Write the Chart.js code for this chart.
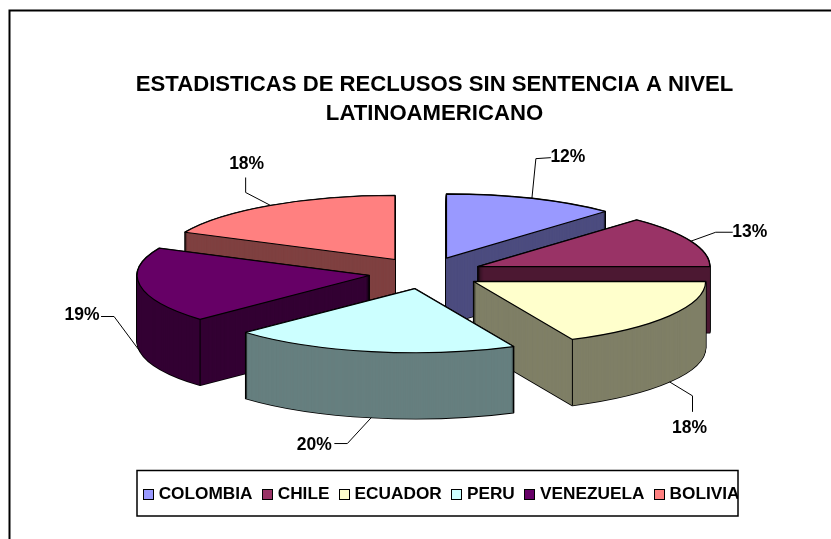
<!DOCTYPE html>
<html>
<head>
<meta charset="utf-8">
<style>html,body{margin:0;padding:0;background:#fff}canvas{display:block}</style>
<script src="https://cdn.jsdelivr.net/npm/chart.js@4"></script>
</head>
<body>
<canvas id="c" width="831" height="539"></canvas>
<script>
const categories = ['COLOMBIA','CHILE','ECUADOR','PERU','VENEZUELA','BOLIVIA'];
const values = [12,13,18,20,19,18];
const tickLabels = ['12%','13%','18%','20%','19%','18%'];
const topColors = ['#9999FF','#993366','#FFFFCC','#CCFFFF','#660066','#FF8080'];
const sideColors = ['#4C4C7F','#4C1933','#7F7F66','#667F7F','#330033','#7F4040'];
const titleLines = ['ESTADISTICAS DE RECLUSOS SIN SENTENCIA A NIVEL','LATINOAMERICANO'];

const FONT = '"Liberation Sans", Arial, sans-serif';
const view = {cx:425.5, cy:273, rx:232, ry:64, depth:66, explode:57, tilt:0.28};
// back-to-front painting order (slice indices)
const paintOrder = [0,5,1,4,2,3];
// leader elbows and label anchor, relative to the rim point of each slice
const leaders = [
  {pts:[[4,-40],[19,-41]], text:[36,-41]},
  {pts:[[25,-9],[42,-9]], text:[59,-9]},
  {pts:[[23,14],[23,30]], text:[20,46]},
  {pts:[[-24,26],[-37,26]], text:[-57,28]},
  {pts:[[-26,-35],[-39,-35]], text:[-58,-36]},
  {pts:[[-25,-13],[-25,-28]], text:[-24,-41]}
];

const pie3d = {
  id:'pie3d',
  beforeDatasetsDraw(chart){
    const ctx = chart.ctx, arcs = chart.getDatasetMeta(0).data;
    const v = view;
    const pos = a => {
      const mid = (a.startAngle + a.endAngle)/2;
      return {x:v.cx + v.explode*Math.cos(mid), y:v.cy + v.explode*v.tilt*Math.sin(mid)};
    };
    const path = (a,p,dy) => {
      ctx.beginPath();
      ctx.moveTo(p.x,p.y+dy);
      ctx.ellipse(p.x,p.y+dy,v.rx,v.ry,0,a.startAngle,a.endAngle);
      ctx.closePath();
    };
    const fillLayer = (a,p,dy,color) => {
      const saved = a.options;
      a.options = Object.assign({}, saved, {backgroundColor:color, borderWidth:0, offset:0, spacing:0});
      ctx.save();
      ctx.translate(p.x,p.y+dy);
      ctx.scale(v.rx/a.outerRadius, v.ry/a.outerRadius);
      ctx.translate(-a.x,-a.y);
      a.draw(ctx);
      ctx.restore();
      a.options = saved;
    };
    ctx.save();
    ctx.lineJoin = 'round';
    for(const i of paintOrder){
      const a = arcs[i], p = pos(a);
      // black silhouette
      ctx.strokeStyle = '#000'; ctx.lineWidth = 1.6;
      for(let dy=v.depth; dy>=0; dy-=1){ path(a,p,dy); ctx.stroke(); }
      // wall body
      for(let dy=v.depth; dy>=0; dy-=1){ fillLayer(a,p,dy,sideColors[i]); }
      // visible front corners
      ctx.lineWidth = 1;
      for(const t of [a.startAngle,a.endAngle]){
        if(Math.sin(t) > 0.05){
          const x = p.x+v.rx*Math.cos(t), y = p.y+v.ry*Math.sin(t);
          ctx.beginPath(); ctx.moveTo(x,y); ctx.lineTo(x,y+v.depth); ctx.stroke();
        }
      }
      // top face
      fillLayer(a,p,0,topColors[i]);
      path(a,p,0); ctx.lineWidth = 1.2; ctx.stroke();
    }
    // percentage labels with leader lines
    ctx.font = 'bold 17.5px '+FONT;
    ctx.fillStyle = '#000';
    ctx.textAlign = 'center';
    ctx.textBaseline = 'middle';
    arcs.forEach((a,i)=>{
      const mid = (a.startAngle+a.endAngle)/2, p = pos(a);
      const front = Math.sin(mid) > 0 ? v.depth : 0;
      const ax = p.x+v.rx*Math.cos(mid), ay = p.y+v.ry*Math.sin(mid)+front;
      const L = leaders[i];
      ctx.beginPath(); ctx.moveTo(ax,ay);
      L.pts.forEach(q=>ctx.lineTo(ax+q[0],ay+q[1]));
      ctx.lineWidth = 1; ctx.strokeStyle = '#000'; ctx.stroke();
      ctx.fillText(tickLabels[i],ax+L.text[0],ay+L.text[1]);
    });
    ctx.restore();
    return false;
  },
  afterDraw(chart){
    const ctx = chart.ctx, lg = chart.legend;
    ctx.save();
    // legend swatches, at the positions the legend laid out
    lg.legendHitBoxes.forEach((h,i)=>{
      const y = Math.round(h.top+h.height/2-5.5)+0.5, x = Math.round(h.left)+1.5;
      ctx.fillStyle = '#fff'; ctx.fillRect(x-2,y-1,14,13);
      ctx.fillStyle = topColors[i]; ctx.fillRect(x,y,10,10);
      ctx.strokeStyle = '#000'; ctx.lineWidth = 1; ctx.strokeRect(x,y,10,10);
    });
    // clip at the legend frame
    ctx.fillStyle = '#fff'; ctx.fillRect(738,465,60,60);
    ctx.strokeStyle = '#000'; ctx.lineWidth = 1.5;
    ctx.strokeRect(137,470.5,601,45.5);
    // outer chart frame
    ctx.lineWidth = 2;
    ctx.beginPath(); ctx.moveTo(9.5,539); ctx.lineTo(9.5,10.5); ctx.lineTo(831,10.5); ctx.stroke();
    ctx.restore();
  }
};

new Chart(document.getElementById('c'),{
  type:'pie',
  data:{labels:categories,datasets:[{data:values,backgroundColor:topColors,borderWidth:0}]},
  plugins:[pie3d],
  options:{
    responsive:false,
    animation:false,
    layout:{padding:{left:121,right:83,top:0,bottom:26}},
    plugins:{
      tooltip:{enabled:false},
      title:{display:true,text:titleLines,color:'#000',padding:{top:70,bottom:10},
        font:{family:FONT,weight:'bold',size:22.15,lineHeight:1.31}},
      legend:{display:true,position:'bottom',align:'end',
        labels:{color:'#000',boxWidth:8,boxHeight:10,padding:8.5,
          font:{family:FONT,weight:'bold',size:17.25}}}
    }
  }
});
</script>
</body>
</html>
